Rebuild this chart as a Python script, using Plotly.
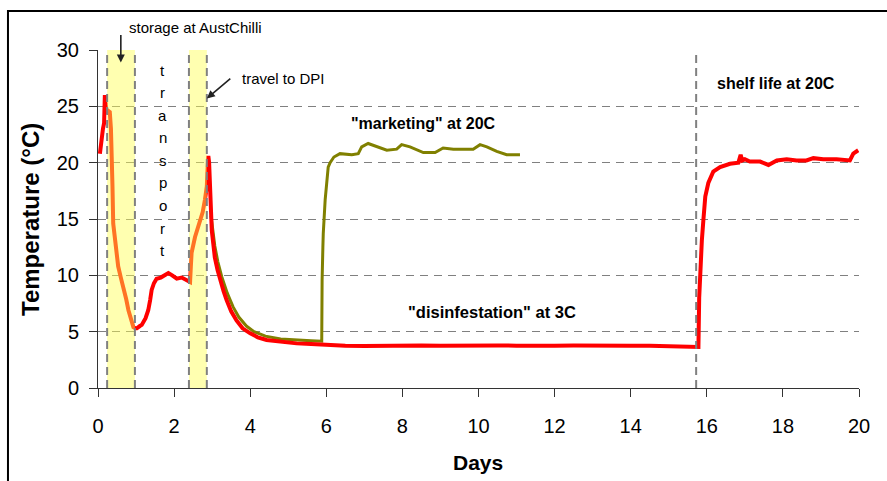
import plotly.graph_objects as go

# ---------------- data ----------------
red_days = [0.05, 0.07, 0.10, 0.13, 0.16, 0.17, 0.18, 0.20, 0.23, 0.27, 0.31, 0.34, 0.36, 0.38, 0.40,
            0.45, 0.53, 0.60, 0.67, 0.74, 0.80, 0.87, 0.93, 0.98, 1.02, 1.10, 1.15, 1.25, 1.32, 1.37,
            1.41, 1.47, 1.54, 1.65, 1.75, 1.85, 1.95, 2.07, 2.20, 2.33, 2.40, 2.42, 2.44, 2.46, 2.55,
            2.62, 2.68, 2.75, 2.81, 2.86, 2.88, 2.90, 2.92, 2.94, 2.96, 2.99, 3.03, 3.07, 3.14, 3.21,
            3.30, 3.38, 3.50, 3.64, 3.80, 4.00, 4.20, 4.43, 4.80, 5.22, 5.60, 6.00, 6.5, 7.0, 7.5,
            8.0, 8.5, 9.0, 9.5, 10.0, 10.5, 11.0, 11.5, 12.0, 12.5, 13.0, 13.5, 14.0, 14.5, 15.0,
            15.3, 15.6, 15.78, 15.80, 15.83, 15.87, 15.91, 15.96, 16.04, 16.17, 16.35, 16.61, 16.83,
            16.89, 16.93, 17.0, 17.13, 17.40, 17.62, 17.84, 18.10, 18.36, 18.62, 18.80, 19.06, 19.41,
            19.76, 19.85, 19.98]
red_temp = [20.8, 21.5, 22.6, 23.0, 23.5, 25.0, 26.0, 25.2, 24.4, 24.6, 24.5, 23.0, 21.4, 18.0, 14.6,
            12.8, 10.8, 9.8, 9.0, 7.9, 6.9, 6.1, 5.4, 5.3, 5.3, 5.5, 5.6, 6.2, 6.9, 7.8,
            8.7, 9.3, 9.7, 9.8, 10.0, 10.2, 10.0, 9.7, 9.8, 9.6, 9.5, 9.4, 10.8, 12.0, 13.4,
            14.2, 14.9, 15.6, 16.7, 17.9, 19.5, 20.6, 20.0, 18.5, 16.0, 14.0, 12.8, 11.6, 10.5, 9.6,
            8.6, 7.8, 6.8, 6.0, 5.3, 4.85, 4.5, 4.26, 4.1, 3.96, 3.9, 3.8, 3.75, 3.72, 3.76,
            3.74, 3.78, 3.74, 3.77, 3.75, 3.78, 3.76, 3.80, 3.76, 3.78, 3.75, 3.77, 3.74, 3.76, 3.75,
            3.72, 3.68, 3.65, 8.0, 11.0, 13.1, 14.9, 17.0, 18.2, 19.2, 19.6, 19.9, 20.0,
            20.7, 20.2, 20.3, 20.1, 20.1, 19.8, 20.2, 20.3, 20.2, 20.2, 20.4, 20.3, 20.3,
            20.2, 20.8, 21.1]

green_days = [2.97, 3.00, 3.07, 3.15, 3.25, 3.40, 3.55, 3.70, 3.90, 4.10, 4.40,
              4.80, 5.20, 5.60, 5.88, 5.88, 5.89, 5.91, 5.92, 5.97, 6.02, 6.05, 6.10, 6.20, 6.36,
              6.67, 6.84, 6.93, 7.10, 7.32, 7.59, 7.85, 7.98, 8.20, 8.55, 8.86, 9.07, 9.34, 9.86,
              10.04, 10.22, 10.48, 10.74, 11.09]
green_temp = [15.3, 14.6, 12.6, 11.2, 9.9, 8.4, 7.2, 6.3, 5.5, 5.0, 4.6,
              4.35, 4.25, 4.2, 4.15, 6.0, 9.6, 12.5, 13.7, 16.7, 19.0, 19.6, 20.0, 20.5, 20.8,
              20.7, 20.8, 21.4, 21.7, 21.4, 21.1, 21.2, 21.6, 21.4, 20.9, 20.9, 21.3, 21.2, 21.2,
              21.6, 21.4, 21.0, 20.7, 20.7]

band_starts = [0.24, 2.39]
band_ends = [0.97, 2.86]
shelf_line_day = 15.72

x_ticks = [0, 2, 4, 6, 8, 10, 12, 14, 16, 18, 20]
y_ticks = [0, 5, 10, 15, 20, 25, 30]

FONT = "Liberation Sans, Arial, sans-serif"

fig = go.Figure()
fig.add_trace(go.Scatter(x=green_days, y=green_temp, mode="lines",
                         line=dict(color="#808000", width=3), hoverinfo="skip"))
fig.add_trace(go.Scatter(x=red_days, y=red_temp, mode="lines",
                         line=dict(color="#FF0000", width=4), hoverinfo="skip"))

shapes = []
for s, e in zip(band_starts, band_ends):
    shapes.append(dict(type="rect", xref="x", yref="y", x0=s, x1=e, y0=0, y1=30,
                       fillcolor="rgba(255,255,80,0.45)", line=dict(width=0), layer="above"))
    for xv in (s, e):
        shapes.append(dict(type="line", xref="x", yref="y", x0=xv, x1=xv, y0=0, y1=30,
                           line=dict(color="#808080", width=2, dash="8px,5px"), layer="above"))
shapes.append(dict(type="line", xref="x", yref="y", x0=shelf_line_day, x1=shelf_line_day, y0=0, y1=30,
                   line=dict(color="#808080", width=2, dash="8px,5px"), layer="above"))
# outer chart border
shapes.append(dict(type="rect", xref="paper", yref="paper", x0=-0.1183, x1=1.08, y0=-0.32, y1=1.1154,
                   line=dict(color="black", width=2), fillcolor="rgba(0,0,0,0)", layer="below"))

annotations = [
    dict(text="storage at AustChilli", x=0.0381, y=1.068, xref="paper", yref="paper", xanchor="left",
         yanchor="middle", showarrow=False, font=dict(family=FONT, size=15, color="black")),
    dict(text="", x=0.60, y=28.9, xref="x", yref="y", showarrow=True, ax=0, ay=-29,
         arrowhead=2, arrowsize=1, arrowwidth=1.6, arrowcolor="#222222"),
    dict(text="travel to DPI", x=3.73, y=27.5, xref="x", yref="y", xanchor="left",
         yanchor="middle", showarrow=False, font=dict(family=FONT, size=15, color="black")),
    dict(text="", x=2.86, y=25.7, xref="x", yref="y", showarrow=True, ax=25, ay=-21,
         arrowhead=2, arrowsize=1, arrowwidth=1.6, arrowcolor="#222222"),
    dict(text='<b>"marketing" at 20C</b>', x=8.56, y=23.5, xref="x", yref="y", xanchor="center",
         yanchor="middle", showarrow=False, font=dict(family=FONT, size=16, color="black")),
    dict(text='<b>"disinfestation" at 3C</b>', x=10.36, y=6.75, xref="x", yref="y", xanchor="center",
         yanchor="middle", showarrow=False, font=dict(family=FONT, size=16.5, color="black")),
    dict(text='<b>shelf life at 20C</b>', x=17.82, y=27.05, xref="x", yref="y", xanchor="center",
         yanchor="middle", showarrow=False, font=dict(family=FONT, size=16, color="black")),
    dict(text="<b>Temperature (°C)</b>", x=-0.0894, y=0.5, xref="paper", yref="paper",
         textangle=-90, showarrow=False, xanchor="center", yanchor="middle",
         font=dict(family=FONT, size=24, color="black")),
    dict(text="<b>Days</b>", x=0.4994, y=-0.219, xref="paper", yref="paper",
         showarrow=False, xanchor="center", yanchor="middle",
         font=dict(family=FONT, size=21, color="black")),
]
# vertical "transport" label
transport_letters = list("transport")
for i, ch in enumerate(transport_letters):
    annotations.append(dict(text=ch, x=1.70, y=28.2 - 2.0 * i, xref="x", yref="y",
                            showarrow=False, xanchor="center", yanchor="middle",
                            font=dict(family=FONT, size=15, color="black")))

fig.update_layout(
    width=887, height=481,
    margin=dict(l=98, r=28, t=50, b=93),
    paper_bgcolor="white", plot_bgcolor="white",
    showlegend=False,
    font=dict(family=FONT, color="black"),
    shapes=shapes, annotations=annotations,
    xaxis=dict(range=[0, 20], tickvals=x_ticks, ticktext=[str(v) for v in x_ticks],
               showgrid=False, zeroline=False, showline=True, linecolor="#333333", linewidth=1,
               ticks="outside", ticklen=8, tickcolor="#333333", tickwidth=1,
               tickfont=dict(family=FONT, size=20, color="black"), ticklabelstandoff=12),
    yaxis=dict(range=[0, 30], tickvals=y_ticks, ticktext=[str(v) for v in y_ticks],
               showgrid=True, gridcolor="#808080", gridwidth=1, griddash="8px,6px",
               zeroline=False, showline=True, linecolor="#333333", linewidth=1,
               ticks="outside", ticklen=8, tickcolor="#333333", tickwidth=1,
               tickfont=dict(family=FONT, size=20, color="black"), ticklabelstandoff=6),
)

fig.write_html("out.html")
